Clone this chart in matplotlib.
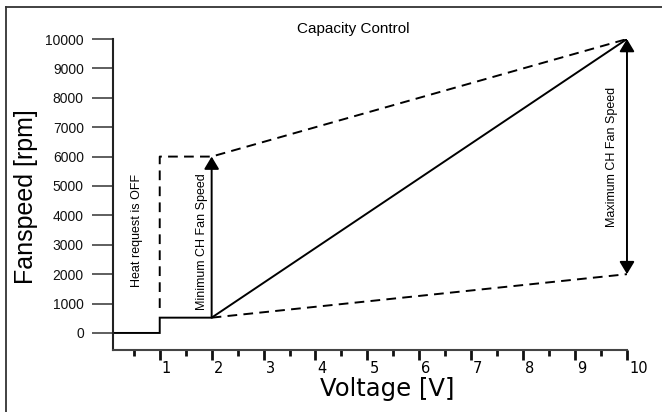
import matplotlib
matplotlib.use("Agg")
import matplotlib.pyplot as plt
import matplotlib.transforms as mtransforms
from matplotlib.lines import Line2D
from matplotlib.ticker import MultipleLocator

plt.rcParams['font.family'] = ['Liberation Sans', 'DejaVu Sans']
plt.rcParams['lines.scale_dashes'] = False

# operating curve of the fan (solid)
volt_curve = [0.1, 1, 1, 2, 10]
rpm_curve = [0, 0, 520, 520, 10000]

# upper limit of the adjustable range (dashed)
volt_upper = [1, 1, 2, 10]
rpm_upper = [850, 6000, 6000, 10000]

# lower limit of the adjustable range (dashed)
volt_lower = [2, 10]
rpm_lower = [520, 2000]

# adjustment arrows: (voltage, rpm from, rpm to)
min_arrow = (2, 520, 6000)
max_arrow = (10, 2000, 10000)

y_ticks = list(range(0, 10001, 1000))
x_ticks = list(range(1, 11))

fig = plt.figure(figsize=(6.62, 4.12), dpi=100)
ax = fig.add_axes([0.1707, 0.1505, 0.7764, 0.7548])

lw = 1.4
ax.plot(volt_curve, rpm_curve, color='black', lw=lw, solid_joinstyle='miter')
ax.plot(volt_upper, rpm_upper, color='black', lw=lw, dashes=(7, 4.5))
ax.plot(volt_lower, rpm_lower, color='black', lw=lw, dashes=(7, 4.5))

ax.annotate('', xy=(min_arrow[0], min_arrow[2]), xytext=(min_arrow[0], min_arrow[1]),
            arrowprops=dict(arrowstyle='-|>,head_length=0.5,head_width=0.3',
                            mutation_scale=15, color='black', lw=lw,
                            shrinkA=0, shrinkB=0))
ax.annotate('', xy=(max_arrow[0], max_arrow[2]), xytext=(max_arrow[0], max_arrow[1]),
            arrowprops=dict(arrowstyle='<|-|>,head_length=0.5,head_width=0.3',
                            mutation_scale=15, color='black', lw=lw,
                            shrinkA=0, shrinkB=0))

ax.text(0.557, 3500, 'Heat request is OFF', rotation=90, fontsize=9,
        ha='center', va='center')
ax.text(1.81, 3100, 'Minimum CH Fan Speed', rotation=90, fontsize=9,
        ha='center', va='center')
ax.text(9.71, 5990, 'Maximum CH Fan Speed', rotation=90, fontsize=9,
        ha='center', va='center')

ax.set_xlim(0.1, 10)
ax.set_ylim(-580, 10000)

for side in ['top', 'right']:
    ax.spines[side].set_visible(False)
ax.spines['left'].set_linewidth(1.5)
ax.spines['bottom'].set_linewidth(1.5)
ax.spines['left'].set_color('#222222')
ax.spines['bottom'].set_color('#444444')

ax.set_yticks(y_ticks)
ax.tick_params(axis='y', direction='out', length=15, width=1.1, color='#333333',
               labelsize=10, pad=6, labelcolor='#111111')

ax.set_xticks(x_ticks)
ax.set_xticklabels([str(v) for v in x_ticks], family='DejaVu Sans')
ax.xaxis.set_minor_locator(MultipleLocator(0.5))
ax.tick_params(axis='x', which='major', direction='out', length=7, width=2,
               color='#111111', labelsize=10.5, pad=1)
ax.tick_params(axis='x', which='minor', direction='out', length=4, width=2,
               color='#111111')

# tick labels sit just right of their tick marks
shift = mtransforms.ScaledTranslation(2 / 100, 0, fig.dpi_scale_trans)
for lab in ax.get_xticklabels():
    lab.set_horizontalalignment('left')
    lab.set_transform(lab.get_transform() + shift)

fig.text(387 / 662, 1 - 389 / 412, 'Voltage [V]', family='DejaVu Sans',
         fontsize=17.5, ha='center', va='center')
fig.text(26 / 662, 1 - 197 / 412, 'Fanspeed [rpm]', fontsize=18, rotation=90,
         ha='center', va='center')
fig.text(353 / 662, 1 - 29 / 412, 'Capacity Control', fontsize=11,
         ha='center', va='center')

# outer frame (left and top edges)
fig.add_artist(Line2D([6 / 662, 6 / 662], [0, 1 - 7 / 412], color='#333333', lw=1.3))
fig.add_artist(Line2D([6 / 662, 1], [1 - 7 / 412, 1 - 7 / 412], color='#333333', lw=1.3))

fig.savefig('out.png', dpi=100)
